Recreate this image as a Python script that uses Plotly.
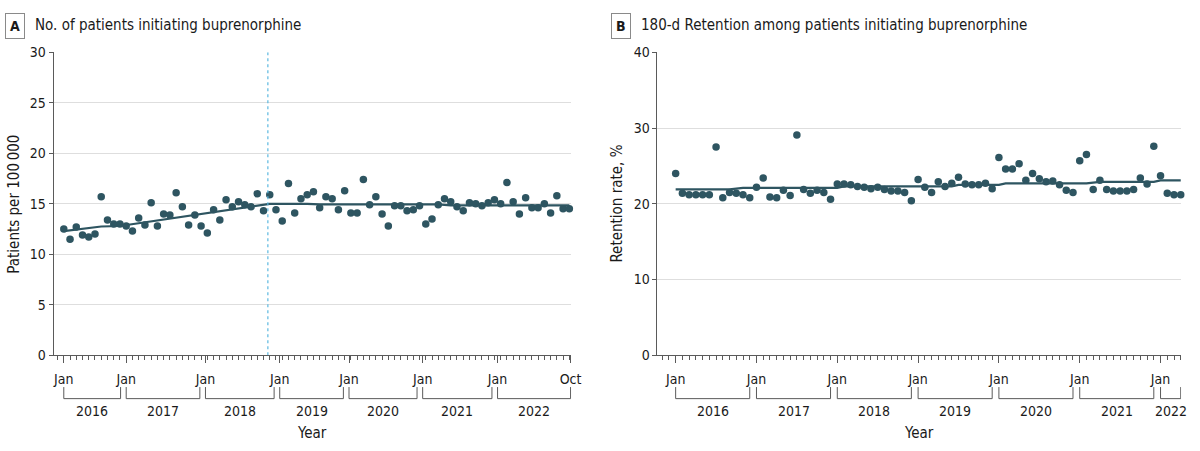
import plotly.graph_objects as go

# ---------------- data ----------------
# Panel A: monthly patients initiating buprenorphine per 100 000, Jan 2016 - Oct 2022 (month index 0..81)
a_month = list(range(82))
a_values = [12.5, 11.5, 12.7, 11.9, 11.7, 12.0, 15.7, 13.4, 13.0, 13.0, 12.8, 12.3,
            13.6, 12.9, 15.1, 12.8, 14.0, 13.9, 16.1, 14.7, 12.9, 13.9, 12.8, 12.1,
            14.4, 13.4, 15.4, 14.7, 15.2, 14.9, 14.7, 16.0, 14.3,
            15.9, 14.4, 13.3, 17.0, 14.1, 15.5, 15.9, 16.2, 14.6, 15.7, 15.5, 14.4,
            16.3, 14.1, 14.1, 17.4, 14.9, 15.7, 14.0, 12.8, 14.8, 14.8, 14.3, 14.4,
            14.8, 13.0, 13.5, 14.9, 15.5, 15.2, 14.7, 14.3, 15.1, 15.0, 14.8, 15.1,
            15.4, 15.0, 17.1, 15.2, 14.0, 15.6, 14.6, 14.6, 15.0, 14.1, 15.8, 14.5, 14.5]
# fitted segmented trend (vertices)
a_fit_month = [0, 6, 9, 33, 39, 41, 60, 62, 81]
a_fit_values = [12.3, 12.75, 12.8, 15.0, 15.0, 14.95, 14.95, 14.85, 14.85]
a_policy_month = 32.7
a_tick_pos = [0, 10, 22.7, 34.6, 45.7, 57.5, 69.5, 81.2]
a_tick_text = ["Jan", "Jan", "Jan", "Jan", "Jan", "Jan", "Jan", "Oct"]
a_years = ["2016", "2017", "2018", "2019", "2020", "2021", "2022"]

# Panel B: 180-d retention (%), Jan 2016 - Apr 2022 (month index 0..75)
b_month = list(range(76))
b_values = [24.0, 21.4, 21.2, 21.2, 21.2, 21.2, 27.5, 20.8, 21.5, 21.4, 21.2, 20.8,
            22.2, 23.4, 20.9, 20.8, 21.8, 21.1, 29.1, 21.9, 21.4, 21.8, 21.5, 20.6,
            22.6, 22.6, 22.5, 22.3, 22.2, 22.0, 22.2, 21.9, 21.7, 21.7, 21.5, 20.4,
            23.2, 22.2, 21.5, 22.9, 22.3, 22.7, 23.5, 22.6, 22.5, 22.5, 22.7, 22.0,
            26.1, 24.6, 24.6, 25.3, 23.1, 24.0, 23.3, 22.9, 23.0, 22.5, 21.8, 21.5,
            25.7, 26.5, 21.9, 23.1, 21.9, 21.7, 21.7, 21.7, 21.9, 23.4, 22.6, 27.6,
            23.7, 21.4, 21.2, 21.2]
b_fit_month = [0, 8, 10, 24, 25, 41, 42, 48, 49, 61, 63, 71, 72, 75]
b_fit_values = [21.9, 21.9, 22.1, 22.1, 22.3, 22.3, 22.5, 22.5, 22.7, 22.7, 22.9, 22.9, 23.1, 23.1]
b_tick_pos = [0, 12, 24, 36, 48, 60, 72]
b_tick_text = ["Jan"] * 7
b_years = ["2016", "2017", "2018", "2019", "2020", "2021", "2022"]
b_year_end = [11, 23, 35, 47, 59, 71, 75]

# ---------------- style ----------------
W, H = 1200, 451
FONT = "Liberation Sans Narrow, DejaVu Sans Condensed, Arial Narrow, sans-serif"
DOT = "#2e5561"
AXIS = "#5a5a5a"
GRID = "#dedede"
TXT = "#1a1a1a"

def px_y(py):
    return 1 - py / H

fig = go.Figure()

# Panel A
fig.add_trace(go.Scatter(x=a_month, y=a_values, mode="markers", xaxis="x", yaxis="y",
                         marker=dict(size=7.5, color=DOT), cliponaxis=False, showlegend=False))
fig.add_trace(go.Scatter(x=a_fit_month, y=a_fit_values, mode="lines", xaxis="x", yaxis="y",
                         line=dict(color=DOT, width=2.2), showlegend=False))
# Panel B
fig.add_trace(go.Scatter(x=b_month, y=b_values, mode="markers", xaxis="x2", yaxis="y2",
                         marker=dict(size=7.5, color=DOT), cliponaxis=False, showlegend=False))
fig.add_trace(go.Scatter(x=b_fit_month, y=b_fit_values, mode="lines", xaxis="x2", yaxis="y2",
                         line=dict(color=DOT, width=2.2), showlegend=False))

ydom = [px_y(360), px_y(46)]

def xaxis(domain, rng, tickpos, ticktext):
    return dict(domain=domain, range=rng, tickmode="array", tickvals=tickpos, ticktext=ticktext,
                showgrid=False, zeroline=False, showline=True, linecolor=AXIS, linewidth=1,
                ticks="outside", ticklen=7, tickcolor=AXIS, tickwidth=1,
                ticklabelstandoff=4,
                tickfont=dict(family=FONT, size=14, color=TXT),
                minor=dict(ticks="outside", ticklen=4, tickcolor=AXIS, tickmode="linear",
                           tick0=0, dtick=1, showgrid=False),
                fixedrange=True)

def yaxis(anchor, rng, dtick):
    return dict(domain=ydom, range=rng, dtick=dtick, anchor=anchor,
                showgrid=True, gridcolor=GRID, gridwidth=1, zeroline=False,
                showline=True, linecolor=AXIS, linewidth=1,
                ticks="outside", ticklen=4, tickcolor=AXIS,
                tickfont=dict(family=FONT, size=14, color=TXT), fixedrange=True)

fig.update_layout(
    width=W, height=H, margin=dict(l=0, r=0, t=0, b=0), autosize=False,
    paper_bgcolor="white", plot_bgcolor="white",
    xaxis=xaxis([54 / W, 576 / W], [-1.64, 81.3], a_tick_pos, a_tick_text) | dict(anchor="y"),
    yaxis=yaxis("x", [0, 30], 5),
    xaxis2=xaxis([663 / W, 1191 / W], [-2.7, 75.05], b_tick_pos, b_tick_text) | dict(anchor="y2"),
    yaxis2=yaxis("x2", [0, 40], 10),
)

shapes = []
annotations = []

# policy dotted line in A
shapes.append(dict(type="line", xref="x", yref="y", x0=a_policy_month, x1=a_policy_month,
                   y0=0, y1=30, line=dict(color="#5bb8e0", width=1.2, dash="dot")))

br_top, br_bot = px_y(393), px_y(405)
yr_y = px_y(418)

def brackets(xref, starts, ends, labels):
    for s, e, lab in zip(starts, ends, labels):
        shapes.append(dict(type="path", xref=xref, yref="paper",
                           path=f"M {s},{br_top} L {s},{br_bot} L {e},{br_bot} L {e},{br_top}",
                           line=dict(color=AXIS, width=1)))
        annotations.append(dict(x=(s + e) / 2, y=yr_y, xref=xref, yref="paper", text=lab,
                                showarrow=False, font=dict(family=FONT, size=14, color=TXT),
                                xanchor="center", yanchor="middle"))

a_starts = a_tick_pos[:7]
a_ends = [p - 0.9 for p in a_tick_pos[1:7]] + [a_tick_pos[7]]
brackets("x", a_starts, a_ends, a_years)
brackets("x2", b_tick_pos, b_year_end, b_years)

# Year titles
for xc in [(54 + 576) / 2 / W, (663 + 1191) / 2 / W]:
    annotations.append(dict(x=xc, y=px_y(441), xref="paper", yref="paper", text="Year",
                            showarrow=False, font=dict(family=FONT, size=15, color=TXT),
                            xanchor="center", yanchor="middle"))

# y titles
annotations.append(dict(x=14 / W, y=px_y(203), xref="paper", yref="paper", text="Patients per 100\u2009000",
                        textangle=-90, showarrow=False, font=dict(family=FONT, size=15, color=TXT),
                        xanchor="center", yanchor="middle"))
annotations.append(dict(x=622 / W, y=px_y(203), xref="paper", yref="paper", text="Retention rate, %",
                        textangle=-90, showarrow=False, font=dict(family=FONT, size=15, color=TXT),
                        xanchor="center", yanchor="middle"))

# panel letters and titles
for letter, bx, title, tx in [("A", 15, "No. of patients initiating buprenorphine", 33),
                              ("B", 626, "180-d Retention among patients initiating buprenorphine", 644)]:
    annotations.append(dict(x=bx / W, y=px_y(19), xref="paper", yref="paper", text=f"<b>{letter}</b>",
                            showarrow=False, font=dict(family=FONT, size=14, color=TXT),
                            bordercolor="#8a8a8a", borderwidth=1, borderpad=4,
                            xanchor="center", yanchor="middle"))
    annotations.append(dict(x=tx / W, y=px_y(18), xref="paper", yref="paper", text=title,
                            showarrow=False, font=dict(family=FONT, size=15, color=TXT),
                            xanchor="left", yanchor="middle"))

fig.update_layout(shapes=shapes, annotations=annotations)
fig.write_html(
    "out.html",
    config={"displayModeBar": False, "responsive": False},
    post_script=(
        "document.documentElement.style.margin='0';"
        "document.documentElement.style.overflow='hidden';"
        "document.body.style.margin='0';document.body.style.overflow='hidden';"
        "var gd=document.getElementsByClassName('plotly-graph-div')[0];"
        "gd.style.position='fixed';gd.style.left='0px';gd.style.top='0px';"
    ),
)
